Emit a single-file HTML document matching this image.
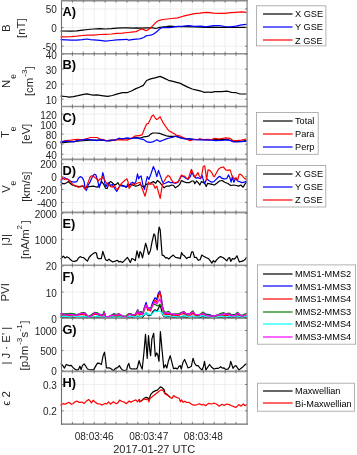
<!DOCTYPE html><html><head><meta charset="utf-8"><style>html,body{margin:0;padding:0;background:#fff;width:357px;height:455px;overflow:hidden}svg{display:block;filter:blur(0.35px)}text{font-family:"Liberation Sans", sans-serif;fill:#262626}</style></head><body>
<svg width="357" height="455" viewBox="0 0 357 455">
<rect width="357" height="455" fill="#fff"/>
<g stroke="#ebebeb" stroke-width="0.8" fill="none">
<line x1="72.41" y1="0.50" x2="72.41" y2="53.60"/>
<line x1="83.31" y1="0.50" x2="83.31" y2="53.60"/>
<line x1="94.22" y1="0.50" x2="94.22" y2="53.60"/>
<line x1="105.12" y1="0.50" x2="105.12" y2="53.60"/>
<line x1="116.03" y1="0.50" x2="116.03" y2="53.60"/>
<line x1="126.94" y1="0.50" x2="126.94" y2="53.60"/>
<line x1="137.84" y1="0.50" x2="137.84" y2="53.60"/>
<line x1="148.75" y1="0.50" x2="148.75" y2="53.60"/>
<line x1="159.65" y1="0.50" x2="159.65" y2="53.60"/>
<line x1="170.56" y1="0.50" x2="170.56" y2="53.60"/>
<line x1="181.46" y1="0.50" x2="181.46" y2="53.60"/>
<line x1="192.37" y1="0.50" x2="192.37" y2="53.60"/>
<line x1="203.28" y1="0.50" x2="203.28" y2="53.60"/>
<line x1="214.18" y1="0.50" x2="214.18" y2="53.60"/>
<line x1="225.09" y1="0.50" x2="225.09" y2="53.60"/>
<line x1="235.99" y1="0.50" x2="235.99" y2="53.60"/>
<line x1="61.50" y1="8.90" x2="246.90" y2="8.90"/>
<line x1="61.50" y1="27.55" x2="246.90" y2="27.55"/>
<line x1="61.50" y1="46.20" x2="246.90" y2="46.20"/>
<line x1="72.41" y1="53.60" x2="72.41" y2="106.40"/>
<line x1="83.31" y1="53.60" x2="83.31" y2="106.40"/>
<line x1="94.22" y1="53.60" x2="94.22" y2="106.40"/>
<line x1="105.12" y1="53.60" x2="105.12" y2="106.40"/>
<line x1="116.03" y1="53.60" x2="116.03" y2="106.40"/>
<line x1="126.94" y1="53.60" x2="126.94" y2="106.40"/>
<line x1="137.84" y1="53.60" x2="137.84" y2="106.40"/>
<line x1="148.75" y1="53.60" x2="148.75" y2="106.40"/>
<line x1="159.65" y1="53.60" x2="159.65" y2="106.40"/>
<line x1="170.56" y1="53.60" x2="170.56" y2="106.40"/>
<line x1="181.46" y1="53.60" x2="181.46" y2="106.40"/>
<line x1="192.37" y1="53.60" x2="192.37" y2="106.40"/>
<line x1="203.28" y1="53.60" x2="203.28" y2="106.40"/>
<line x1="214.18" y1="53.60" x2="214.18" y2="106.40"/>
<line x1="225.09" y1="53.60" x2="225.09" y2="106.40"/>
<line x1="235.99" y1="53.60" x2="235.99" y2="106.40"/>
<line x1="61.50" y1="54.10" x2="246.90" y2="54.10"/>
<line x1="61.50" y1="69.10" x2="246.90" y2="69.10"/>
<line x1="61.50" y1="84.10" x2="246.90" y2="84.10"/>
<line x1="61.50" y1="99.20" x2="246.90" y2="99.20"/>
<line x1="72.41" y1="106.40" x2="72.41" y2="159.30"/>
<line x1="83.31" y1="106.40" x2="83.31" y2="159.30"/>
<line x1="94.22" y1="106.40" x2="94.22" y2="159.30"/>
<line x1="105.12" y1="106.40" x2="105.12" y2="159.30"/>
<line x1="116.03" y1="106.40" x2="116.03" y2="159.30"/>
<line x1="126.94" y1="106.40" x2="126.94" y2="159.30"/>
<line x1="137.84" y1="106.40" x2="137.84" y2="159.30"/>
<line x1="148.75" y1="106.40" x2="148.75" y2="159.30"/>
<line x1="159.65" y1="106.40" x2="159.65" y2="159.30"/>
<line x1="170.56" y1="106.40" x2="170.56" y2="159.30"/>
<line x1="181.46" y1="106.40" x2="181.46" y2="159.30"/>
<line x1="192.37" y1="106.40" x2="192.37" y2="159.30"/>
<line x1="203.28" y1="106.40" x2="203.28" y2="159.30"/>
<line x1="214.18" y1="106.40" x2="214.18" y2="159.30"/>
<line x1="225.09" y1="106.40" x2="225.09" y2="159.30"/>
<line x1="235.99" y1="106.40" x2="235.99" y2="159.30"/>
<line x1="61.50" y1="114.10" x2="246.90" y2="114.10"/>
<line x1="61.50" y1="124.10" x2="246.90" y2="124.10"/>
<line x1="61.50" y1="134.20" x2="246.90" y2="134.20"/>
<line x1="61.50" y1="144.20" x2="246.90" y2="144.20"/>
<line x1="61.50" y1="154.20" x2="246.90" y2="154.20"/>
<line x1="72.41" y1="159.30" x2="72.41" y2="212.40"/>
<line x1="83.31" y1="159.30" x2="83.31" y2="212.40"/>
<line x1="94.22" y1="159.30" x2="94.22" y2="212.40"/>
<line x1="105.12" y1="159.30" x2="105.12" y2="212.40"/>
<line x1="116.03" y1="159.30" x2="116.03" y2="212.40"/>
<line x1="126.94" y1="159.30" x2="126.94" y2="212.40"/>
<line x1="137.84" y1="159.30" x2="137.84" y2="212.40"/>
<line x1="148.75" y1="159.30" x2="148.75" y2="212.40"/>
<line x1="159.65" y1="159.30" x2="159.65" y2="212.40"/>
<line x1="170.56" y1="159.30" x2="170.56" y2="212.40"/>
<line x1="181.46" y1="159.30" x2="181.46" y2="212.40"/>
<line x1="192.37" y1="159.30" x2="192.37" y2="212.40"/>
<line x1="203.28" y1="159.30" x2="203.28" y2="212.40"/>
<line x1="214.18" y1="159.30" x2="214.18" y2="212.40"/>
<line x1="225.09" y1="159.30" x2="225.09" y2="212.40"/>
<line x1="235.99" y1="159.30" x2="235.99" y2="212.40"/>
<line x1="61.50" y1="163.90" x2="246.90" y2="163.90"/>
<line x1="61.50" y1="176.70" x2="246.90" y2="176.70"/>
<line x1="61.50" y1="189.60" x2="246.90" y2="189.60"/>
<line x1="61.50" y1="202.40" x2="246.90" y2="202.40"/>
<line x1="72.41" y1="212.40" x2="72.41" y2="265.20"/>
<line x1="83.31" y1="212.40" x2="83.31" y2="265.20"/>
<line x1="94.22" y1="212.40" x2="94.22" y2="265.20"/>
<line x1="105.12" y1="212.40" x2="105.12" y2="265.20"/>
<line x1="116.03" y1="212.40" x2="116.03" y2="265.20"/>
<line x1="126.94" y1="212.40" x2="126.94" y2="265.20"/>
<line x1="137.84" y1="212.40" x2="137.84" y2="265.20"/>
<line x1="148.75" y1="212.40" x2="148.75" y2="265.20"/>
<line x1="159.65" y1="212.40" x2="159.65" y2="265.20"/>
<line x1="170.56" y1="212.40" x2="170.56" y2="265.20"/>
<line x1="181.46" y1="212.40" x2="181.46" y2="265.20"/>
<line x1="192.37" y1="212.40" x2="192.37" y2="265.20"/>
<line x1="203.28" y1="212.40" x2="203.28" y2="265.20"/>
<line x1="214.18" y1="212.40" x2="214.18" y2="265.20"/>
<line x1="225.09" y1="212.40" x2="225.09" y2="265.20"/>
<line x1="235.99" y1="212.40" x2="235.99" y2="265.20"/>
<line x1="61.50" y1="213.30" x2="246.90" y2="213.30"/>
<line x1="61.50" y1="239.30" x2="246.90" y2="239.30"/>
<line x1="72.41" y1="265.20" x2="72.41" y2="318.10"/>
<line x1="83.31" y1="265.20" x2="83.31" y2="318.10"/>
<line x1="94.22" y1="265.20" x2="94.22" y2="318.10"/>
<line x1="105.12" y1="265.20" x2="105.12" y2="318.10"/>
<line x1="116.03" y1="265.20" x2="116.03" y2="318.10"/>
<line x1="126.94" y1="265.20" x2="126.94" y2="318.10"/>
<line x1="137.84" y1="265.20" x2="137.84" y2="318.10"/>
<line x1="148.75" y1="265.20" x2="148.75" y2="318.10"/>
<line x1="159.65" y1="265.20" x2="159.65" y2="318.10"/>
<line x1="170.56" y1="265.20" x2="170.56" y2="318.10"/>
<line x1="181.46" y1="265.20" x2="181.46" y2="318.10"/>
<line x1="192.37" y1="265.20" x2="192.37" y2="318.10"/>
<line x1="203.28" y1="265.20" x2="203.28" y2="318.10"/>
<line x1="214.18" y1="265.20" x2="214.18" y2="318.10"/>
<line x1="225.09" y1="265.20" x2="225.09" y2="318.10"/>
<line x1="235.99" y1="265.20" x2="235.99" y2="318.10"/>
<line x1="61.50" y1="266.00" x2="246.90" y2="266.00"/>
<line x1="61.50" y1="292.10" x2="246.90" y2="292.10"/>
<line x1="72.41" y1="318.10" x2="72.41" y2="371.20"/>
<line x1="83.31" y1="318.10" x2="83.31" y2="371.20"/>
<line x1="94.22" y1="318.10" x2="94.22" y2="371.20"/>
<line x1="105.12" y1="318.10" x2="105.12" y2="371.20"/>
<line x1="116.03" y1="318.10" x2="116.03" y2="371.20"/>
<line x1="126.94" y1="318.10" x2="126.94" y2="371.20"/>
<line x1="137.84" y1="318.10" x2="137.84" y2="371.20"/>
<line x1="148.75" y1="318.10" x2="148.75" y2="371.20"/>
<line x1="159.65" y1="318.10" x2="159.65" y2="371.20"/>
<line x1="170.56" y1="318.10" x2="170.56" y2="371.20"/>
<line x1="181.46" y1="318.10" x2="181.46" y2="371.20"/>
<line x1="192.37" y1="318.10" x2="192.37" y2="371.20"/>
<line x1="203.28" y1="318.10" x2="203.28" y2="371.20"/>
<line x1="214.18" y1="318.10" x2="214.18" y2="371.20"/>
<line x1="225.09" y1="318.10" x2="225.09" y2="371.20"/>
<line x1="235.99" y1="318.10" x2="235.99" y2="371.20"/>
<line x1="61.50" y1="330.50" x2="246.90" y2="330.50"/>
<line x1="61.50" y1="350.60" x2="246.90" y2="350.60"/>
<line x1="61.50" y1="370.70" x2="246.90" y2="370.70"/>
<line x1="72.41" y1="371.20" x2="72.41" y2="424.00"/>
<line x1="83.31" y1="371.20" x2="83.31" y2="424.00"/>
<line x1="94.22" y1="371.20" x2="94.22" y2="424.00"/>
<line x1="105.12" y1="371.20" x2="105.12" y2="424.00"/>
<line x1="116.03" y1="371.20" x2="116.03" y2="424.00"/>
<line x1="126.94" y1="371.20" x2="126.94" y2="424.00"/>
<line x1="137.84" y1="371.20" x2="137.84" y2="424.00"/>
<line x1="148.75" y1="371.20" x2="148.75" y2="424.00"/>
<line x1="159.65" y1="371.20" x2="159.65" y2="424.00"/>
<line x1="170.56" y1="371.20" x2="170.56" y2="424.00"/>
<line x1="181.46" y1="371.20" x2="181.46" y2="424.00"/>
<line x1="192.37" y1="371.20" x2="192.37" y2="424.00"/>
<line x1="203.28" y1="371.20" x2="203.28" y2="424.00"/>
<line x1="214.18" y1="371.20" x2="214.18" y2="424.00"/>
<line x1="225.09" y1="371.20" x2="225.09" y2="424.00"/>
<line x1="235.99" y1="371.20" x2="235.99" y2="424.00"/>
<line x1="61.50" y1="384.50" x2="246.90" y2="384.50"/>
<line x1="61.50" y1="410.80" x2="246.90" y2="410.80"/>
</g>
<polyline fill="none" stroke="#000" stroke-width="1.20" stroke-linejoin="round" stroke-linecap="round" points="61.0,31.0 71.2,31.2 76.8,30.9 82.4,30.1 88.0,29.5 93.6,29.0 100.0,28.6 105.6,29.0 111.2,28.7 116.8,28.1 122.4,27.8 128.0,27.8 133.6,28.1 136.0,27.9 141.6,28.2 147.2,27.9 152.8,27.9 156.2,28.5 158.4,27.7 161.8,27.0 166.3,26.6 169.6,26.2 176.0,26.6 183.0,26.6 195.0,26.9 205.6,27.4 212.0,27.2 219.2,27.4 230.4,27.4 246.5,27.4"/>
<polyline fill="none" stroke="#0000ff" stroke-width="1.20" stroke-linejoin="round" stroke-linecap="round" points="61.0,39.6 71.2,40.2 76.8,40.2 82.4,39.6 86.9,39.0 90.3,39.6 93.6,39.9 100.0,40.4 105.6,41.1 111.2,40.5 116.8,39.9 122.4,39.6 126.9,39.3 128.6,40.2 133.6,39.3 139.0,38.9 140.5,38.6 143.8,37.5 146.1,35.8 148.3,35.5 150.6,35.2 152.8,34.4 155.0,33.0 157.3,31.3 159.5,29.0 161.8,27.7 165.1,27.4 168.5,27.7 171.9,27.4 177.6,26.3 183.2,26.1 188.8,25.7 194.4,26.3 201.1,26.1 205.6,26.8 213.6,25.7 219.2,25.7 224.8,26.5 230.4,26.8 236.0,26.1 241.6,24.9 246.5,24.3"/>
<polyline fill="none" stroke="#ff0000" stroke-width="1.20" stroke-linejoin="round" stroke-linecap="round" points="61.0,36.8 71.2,36.6 76.8,36.2 82.4,35.5 88.0,35.1 93.6,35.1 100.0,34.5 105.6,34.3 111.2,34.0 116.8,33.4 122.4,33.1 128.0,32.5 133.6,31.8 136.0,31.6 138.8,30.2 141.6,29.0 143.8,29.6 146.1,30.7 148.3,29.6 150.6,27.9 152.8,25.7 155.0,23.4 157.3,21.2 159.5,20.3 162.9,19.5 167.4,19.0 171.9,18.5 177.6,17.9 183.2,16.2 188.8,14.9 194.4,13.7 200.0,13.1 203.4,12.6 207.9,12.4 213.6,13.1 219.2,13.4 224.8,13.4 230.4,12.6 236.0,12.3 241.6,11.9 246.5,12.3"/>
<polyline fill="none" stroke="#000" stroke-width="1.20" stroke-linejoin="round" stroke-linecap="round" points="61.0,96.1 65.6,96.5 69.0,97.1 73.4,96.6 77.9,95.7 82.4,94.6 86.9,93.8 90.3,94.6 93.6,95.2 97.0,94.9 100.0,95.3 103.4,95.8 107.8,96.4 112.3,95.5 116.8,94.2 122.4,92.7 126.9,92.7 131.4,91.0 135.9,88.6 139.4,87.3 143.3,85.4 146.6,80.5 150.6,78.9 155.0,77.9 160.1,76.4 164.0,78.1 168.5,80.3 173.0,81.4 176.5,82.3 179.8,83.1 183.2,84.9 187.7,87.1 192.2,89.0 196.6,90.1 201.1,91.2 204.5,92.4 207.9,92.0 211.4,92.4 214.7,91.6 221.4,91.6 227.6,91.2 231.5,92.4 236.0,92.7 239.4,93.8 246.5,94.0"/>
<polyline fill="none" stroke="#000" stroke-width="1.20" stroke-linejoin="round" stroke-linecap="round" points="61.0,142.8 70.0,142.0 80.0,141.0 90.0,140.2 100.0,140.2 110.0,140.8 120.0,139.0 130.0,138.5 136.0,137.5 140.5,138.0 143.8,136.9 147.2,136.3 148.9,135.8 150.6,134.1 152.8,133.0 156.2,133.0 159.5,133.3 162.9,134.6 166.3,135.8 169.6,136.3 176.0,136.3 180.5,137.6 185.0,138.6 193.9,139.3 210.0,139.6 226.8,139.3 233.0,141.2 240.0,141.5 246.4,140.6"/>
<polyline fill="none" stroke="#ff0000" stroke-width="1.20" stroke-linejoin="round" stroke-linecap="round" points="61.0,142.0 65.6,140.7 71.2,140.1 74.6,139.6 77.9,139.3 82.4,139.8 86.9,138.7 90.3,137.5 93.6,137.5 97.0,137.5 100.0,139.0 103.4,139.6 106.7,140.7 111.2,140.1 116.8,139.9 122.4,139.6 126.9,140.1 131.4,138.4 134.7,136.2 138.1,135.6 140.0,135.6 142.2,134.6 144.4,129.0 146.6,124.0 148.3,123.4 150.0,120.1 151.7,116.2 153.4,115.0 155.0,117.8 156.7,119.5 158.4,118.4 160.1,116.7 161.2,119.0 162.9,122.3 165.1,125.7 167.4,129.0 169.6,131.3 171.9,132.4 174.7,134.1 176.0,135.1 180.5,136.2 185.0,138.2 188.3,140.1 190.6,140.7 193.9,139.3 198.4,139.6 199.5,138.7 202.9,139.6 207.4,139.3 211.9,139.6 214.5,138.4 219.0,139.0 225.7,137.9 230.2,138.4 233.0,140.5 236.9,140.7 241.4,140.1 246.4,139.0"/>
<polyline fill="none" stroke="#0000ff" stroke-width="1.20" stroke-linejoin="round" stroke-linecap="round" points="61.0,141.8 65.6,141.2 71.2,141.6 74.6,141.8 76.8,140.5 82.4,139.8 86.9,139.3 90.3,139.6 93.6,140.1 97.0,140.7 100.0,139.6 103.4,140.1 106.7,141.0 111.2,140.1 115.7,139.8 119.0,138.2 122.4,139.0 126.9,137.9 131.4,138.7 133.6,137.9 137.0,138.2 140.5,138.9 143.8,139.7 147.2,141.9 150.0,142.3 152.8,141.9 155.0,140.8 157.1,139.7 158.4,140.8 160.1,141.4 162.9,140.3 166.3,138.9 169.6,138.0 173.0,137.1 176.0,136.2 180.5,137.9 185.0,139.0 189.4,138.7 193.9,139.6 202.9,139.8 211.9,140.1 215.6,140.7 221.2,140.5 226.8,139.8 230.7,140.7 233.0,141.8 236.9,142.0 241.4,141.6 246.4,141.2"/>
<polyline fill="none" stroke="#000" stroke-width="1.20" stroke-linejoin="round" stroke-linecap="round" points="61.0,185.0 62.2,183.3 64.5,183.8 66.7,182.7 68.4,181.6 70.1,183.3 72.3,185.0 75.7,186.1 79.0,186.6 82.4,186.1 85.8,187.8 89.1,186.6 93.6,186.1 97.0,187.2 100.0,184.4 101.7,181.6 103.4,183.8 105.6,188.3 107.3,188.3 109.0,182.7 110.6,181.6 112.9,183.3 114.6,185.0 116.2,184.4 117.9,182.7 119.6,185.5 121.8,185.0 124.1,186.1 126.3,187.2 128.6,185.5 130.8,184.4 133.6,185.5 135.9,186.1 138.1,185.5 140.0,184.4 142.2,186.1 143.9,187.2 146.2,184.4 149.0,183.8 151.2,182.7 153.4,181.6 155.7,183.3 157.4,180.5 159.6,182.2 161.8,185.0 164.1,187.8 166.3,186.1 169.1,186.1 171.9,185.0 173.6,185.5 175.3,187.8 178.1,186.1 179.7,184.4 181.4,180.5 183.6,181.6 186.4,182.7 189.2,182.7 192.0,181.0 193.7,181.0 194.8,183.8 196.5,181.0 198.2,182.7 199.8,185.0 201.5,181.6 203.5,182.7 204.9,183.8 206.2,186.6 207.7,183.3 209.9,183.8 212.2,184.4 214.5,185.0 216.7,183.3 219.5,181.0 222.3,180.5 224.6,182.2 227.9,183.5 230.7,185.5 233.5,185.0 236.3,185.5 238.6,186.1 240.8,185.0 243.1,187.2 244.7,184.4 246.4,182.2"/>
<polyline fill="none" stroke="#0000ff" stroke-width="1.20" stroke-linejoin="round" stroke-linecap="round" points="61.0,182.2 62.2,178.8 64.5,177.7 66.7,178.8 69.0,179.9 71.2,181.6 74.6,182.2 76.8,181.6 78.5,178.2 80.2,176.6 82.4,177.7 84.1,181.6 85.2,188.3 86.3,190.6 88.0,185.5 90.3,181.6 92.5,176.6 94.2,174.3 95.9,174.9 97.5,179.9 99.2,187.8 101.1,182.2 102.8,172.6 103.9,176.6 105.0,184.4 106.2,186.6 107.3,183.3 109.0,182.7 110.6,185.5 112.3,184.4 114.0,187.2 115.7,190.0 116.8,191.4 118.5,187.8 120.2,185.5 122.4,186.1 124.6,186.1 126.3,187.2 128.0,183.8 129.1,186.1 130.8,183.3 132.5,182.2 134.2,183.8 135.9,181.6 137.5,173.8 138.7,178.8 140.0,176.6 141.1,176.0 142.8,184.4 144.5,189.5 146.2,181.0 147.3,176.6 149.0,179.4 151.2,173.2 153.4,166.5 155.1,170.4 156.8,176.6 158.5,170.4 160.2,175.4 162.4,181.6 164.1,183.8 166.3,182.7 168.6,181.6 170.8,182.7 173.6,182.7 175.9,183.3 178.1,182.2 179.7,178.8 181.4,176.0 183.6,176.6 185.8,178.2 188.1,179.4 190.3,176.6 192.0,172.1 193.7,176.0 195.9,178.2 198.2,177.7 200.4,178.8 202.1,175.4 203.8,181.6 204.9,183.3 206.6,178.8 208.8,180.5 211.6,182.2 213.9,181.6 216.7,178.8 219.5,176.3 221.8,178.2 224.0,178.8 226.8,178.6 228.5,174.9 229.9,177.7 231.1,182.2 232.2,177.1 233.9,182.2 235.5,178.2 237.5,181.0 239.7,181.6 241.9,182.7 244.2,182.2 246.4,181.0"/>
<polyline fill="none" stroke="#ff0000" stroke-width="1.20" stroke-linejoin="round" stroke-linecap="round" points="61.0,179.9 62.2,177.7 64.5,179.4 66.7,178.8 69.0,180.5 71.2,182.7 73.4,185.0 75.7,185.5 77.9,187.2 81.3,186.6 83.0,185.5 84.6,188.9 86.3,187.2 88.0,182.7 90.3,176.6 91.9,175.7 93.6,176.6 95.9,178.2 98.1,181.0 100.0,178.8 101.7,178.8 102.8,176.6 104.5,179.9 106.2,182.7 107.8,184.4 110.1,186.1 112.3,187.2 114.6,185.5 116.2,188.9 117.9,189.5 120.2,185.0 122.4,182.7 124.6,180.5 126.9,178.8 128.0,181.6 129.1,188.3 130.8,186.1 132.5,183.8 134.7,184.4 137.0,183.3 140.0,182.2 141.7,187.2 143.4,191.7 145.0,196.2 146.7,189.5 148.4,182.2 150.1,184.4 151.8,183.8 153.4,184.4 155.1,188.3 156.8,186.1 158.5,192.3 160.2,198.4 161.8,187.8 163.5,182.2 165.8,178.2 168.0,175.4 169.7,176.6 171.4,179.9 173.6,182.7 175.9,182.7 178.1,181.6 179.7,179.4 181.4,174.9 183.0,176.0 184.7,176.0 186.4,178.2 188.1,178.8 189.8,174.3 191.4,169.3 193.1,173.2 194.8,177.1 196.5,174.9 197.9,172.6 199.3,176.0 201.0,178.2 202.1,173.2 203.2,166.5 204.7,165.9 205.8,173.2 206.6,179.9 208.0,169.8 209.9,170.4 211.7,172.6 213.4,176.0 214.5,176.6 216.2,173.2 218.4,169.3 220.6,167.6 223.4,167.0 225.7,169.8 227.9,170.4 230.2,169.8 231.8,175.4 234.1,178.8 236.0,177.7 237.5,180.5 239.1,174.3 240.8,174.3 242.5,176.0 244.2,178.2 246.4,179.4"/>
<polyline fill="none" stroke="#000" stroke-width="1.20" stroke-linejoin="round" stroke-linecap="round" points="61.0,258.6 61.7,257.7 63.4,256.1 65.0,258.0 66.7,256.9 68.4,257.5 70.1,259.2 72.3,261.1 74.6,261.4 76.8,260.6 78.5,258.0 80.2,256.6 81.8,257.5 83.5,257.5 85.8,259.7 87.5,261.1 89.1,257.5 90.8,255.5 93.1,253.6 95.3,252.5 96.4,253.0 97.5,258.0 98.7,258.6 101.3,258.6 102.8,251.3 103.9,254.7 105.6,259.7 107.3,260.6 109.0,259.2 110.6,260.6 112.3,261.8 114.6,261.4 117.4,260.3 119.0,262.0 120.7,261.4 122.4,262.5 124.1,260.9 125.8,259.2 127.5,257.5 128.9,259.7 130.3,262.5 131.9,258.6 133.6,259.2 135.3,260.6 137.0,250.8 138.9,257.9 140.0,251.7 141.1,252.8 142.5,257.9 144.2,250.0 145.6,243.3 147.0,247.8 148.6,254.5 150.3,251.1 152.0,242.2 153.9,233.8 155.0,235.4 156.2,244.4 157.3,250.0 158.2,234.3 159.1,227.0 160.2,229.8 161.3,244.4 162.1,255.1 163.8,255.6 165.5,257.9 167.1,257.6 168.8,259.0 171.1,256.7 173.3,255.1 175.5,257.3 178.2,257.8 180.3,258.6 181.6,252.5 182.7,254.7 184.4,255.8 186.6,258.6 188.3,257.3 190.0,257.5 191.7,251.9 193.0,251.9 194.5,257.5 196.2,257.3 198.4,260.3 200.1,259.7 201.8,255.0 204.0,256.4 206.3,257.8 208.5,258.6 210.7,261.4 211.9,263.1 213.4,260.6 215.0,262.0 217.3,259.2 219.0,257.5 220.6,256.6 222.9,257.5 225.1,259.2 226.8,260.9 228.5,258.0 229.6,257.5 230.7,261.4 232.4,258.6 234.1,259.2 235.5,258.0 236.9,255.8 238.0,258.6 239.4,262.0 241.4,261.4 243.6,260.6 245.3,259.2 246.4,257.5"/>
<polyline fill="none" stroke="#000" stroke-width="1.20" stroke-linejoin="round" stroke-linecap="round" points="61.0,317.5 64.0,316.8 67.0,317.1 70.0,316.9 72.6,317.5 76.8,316.9 79.5,316.8 81.8,317.0 83.5,317.2 85.2,316.6 86.5,317.6 88.1,317.1 91.0,317.6 94.4,317.4 96.1,317.0 97.8,317.2 99.4,317.5 102.8,317.5 104.1,316.5 105.7,317.5 107.8,317.1 111.2,317.6 113.7,316.9 116.5,316.8 119.0,316.7 121.6,317.6 124.9,317.1 126.6,317.4 128.7,317.5 130.8,316.8 132.9,317.6 135.0,317.0 136.7,316.9 137.7,316.0 139.4,317.0 141.0,316.7 142.7,317.5 144.4,314.7 146.1,312.9 147.8,315.3 148.9,314.9 150.6,315.5 152.8,311.8 155.0,309.7 156.7,311.1 158.4,308.6 159.8,305.0 161.2,308.6 162.3,313.9 164.0,316.6 165.7,317.3 168.8,316.7 171.6,317.1 175.0,317.2 178.3,317.1 181.1,316.8 183.9,317.1 186.2,317.4 189.5,316.8 192.9,316.4 195.1,317.4 198.5,317.1 200.7,317.5 203.0,316.6 206.0,317.6 209.5,317.4 213.1,317.6 216.6,317.6 220.1,316.9 223.6,317.2 226.6,317.6 229.5,317.1 231.3,317.6 234.2,317.2 237.8,316.8 240.1,317.6 242.5,317.6 246.5,317.4"/>
<polyline fill="none" stroke="#0000ff" stroke-width="1.20" stroke-linejoin="round" stroke-linecap="round" points="61.0,313.7 64.0,314.8 67.0,313.9 70.0,314.1 72.6,314.2 76.8,314.9 79.5,314.2 81.8,312.9 83.5,312.9 85.2,314.0 86.5,315.6 88.1,316.9 91.0,315.9 94.4,313.2 96.1,313.6 97.8,313.9 99.4,315.1 102.8,315.2 104.1,312.0 105.7,316.8 107.8,317.0 111.2,315.9 113.7,313.7 116.5,314.8 119.0,314.1 121.6,315.8 124.9,316.6 126.6,316.5 128.7,313.5 130.8,314.1 132.9,315.2 135.0,315.4 136.7,312.4 137.7,309.8 139.4,313.1 141.0,311.6 142.7,313.7 144.4,307.3 146.1,302.4 147.8,308.4 148.9,307.7 150.6,308.7 152.8,302.0 155.0,297.7 156.7,299.7 158.4,293.0 159.8,291.1 161.2,296.7 162.3,305.2 164.0,312.3 165.7,313.7 168.8,313.1 171.6,315.1 175.0,314.7 178.3,315.2 181.1,312.7 183.9,312.4 186.2,314.2 189.5,313.9 192.9,312.8 195.1,314.4 198.5,315.6 200.7,314.7 203.0,312.7 206.0,314.1 209.5,314.6 213.1,316.2 216.6,315.4 220.1,315.0 223.6,313.4 226.6,314.5 229.5,314.1 231.3,314.5 234.2,315.0 237.8,314.1 240.1,315.7 242.5,316.3 246.5,314.7"/>
<polyline fill="none" stroke="#ff0000" stroke-width="1.20" stroke-linejoin="round" stroke-linecap="round" points="61.0,315.6 64.0,315.4 67.0,315.2 70.0,315.8 72.6,315.6 76.8,315.3 79.5,314.8 81.8,314.4 83.5,314.6 85.2,315.0 86.5,315.6 88.1,316.8 91.0,316.5 94.4,314.2 96.1,314.4 97.8,314.6 99.4,315.9 102.8,316.1 104.1,313.7 105.7,317.6 107.8,317.0 111.2,316.2 113.7,315.4 116.5,316.0 119.0,315.0 121.6,316.2 124.9,316.6 126.6,316.5 128.7,314.8 130.8,314.8 132.9,315.9 135.0,315.4 136.7,314.4 137.7,311.7 139.4,315.3 141.0,313.9 142.7,315.1 144.4,309.9 146.1,304.9 147.8,310.7 148.9,309.3 150.6,311.1 152.8,305.0 155.0,300.1 156.7,302.1 158.4,296.5 159.8,291.9 161.2,297.7 162.3,307.6 164.0,313.9 165.7,314.3 168.8,314.1 171.6,315.0 175.0,315.2 178.3,315.7 181.1,314.0 183.9,313.6 186.2,315.2 189.5,316.0 192.9,313.6 195.1,315.4 198.5,315.7 200.7,314.9 203.0,314.9 206.0,315.4 209.5,316.1 213.1,316.5 216.6,316.4 220.1,315.6 223.6,315.2 226.6,315.3 229.5,315.1 231.3,316.1 234.2,315.6 237.8,315.0 240.1,315.7 242.5,316.4 246.5,314.8"/>
<polyline fill="none" stroke="#008000" stroke-width="1.20" stroke-linejoin="round" stroke-linecap="round" points="61.0,314.0 64.0,313.7 67.0,314.2 70.0,313.3 72.6,313.5 76.8,314.5 79.5,313.8 81.8,312.7 83.5,312.5 85.2,312.9 86.5,314.7 88.1,316.5 91.0,315.0 94.4,312.4 96.1,312.5 97.8,312.9 99.4,314.2 102.8,315.0 104.1,311.3 105.7,316.6 107.8,317.3 111.2,315.3 113.7,314.1 116.5,314.4 119.0,313.9 121.6,315.7 124.9,316.4 126.6,315.5 128.7,313.5 130.8,313.5 132.9,315.2 135.0,314.7 136.7,311.4 137.7,310.1 139.4,312.7 141.0,311.6 142.7,313.3 144.4,308.1 146.1,304.8 147.8,308.1 148.9,308.4 150.6,308.4 152.8,305.0 155.0,304.2 156.7,305.6 158.4,305.7 159.8,304.1 161.2,305.8 162.3,307.3 164.0,311.1 165.7,312.4 168.8,311.3 171.6,314.3 175.0,313.8 178.3,313.8 181.1,312.8 183.9,311.3 186.2,313.8 189.5,313.7 192.9,310.8 195.1,314.3 198.5,315.1 200.7,313.7 203.0,312.0 206.0,314.6 209.5,315.0 213.1,316.2 216.6,315.7 220.1,313.5 223.6,312.7 226.6,313.7 229.5,313.2 231.3,314.7 234.2,315.0 237.8,312.3 240.1,314.9 242.5,315.0 246.5,313.2"/>
<polyline fill="none" stroke="#00ffff" stroke-width="1.20" stroke-linejoin="round" stroke-linecap="round" points="61.0,316.4 64.0,316.2 67.0,316.3 70.0,317.0 72.6,316.1 76.8,316.3 79.5,316.5 81.8,316.1 83.5,316.7 85.2,316.6 86.5,316.5 88.1,317.1 91.0,316.9 94.4,316.6 96.1,316.4 97.8,315.8 99.4,317.0 102.8,316.9 104.1,316.2 105.7,317.3 107.8,317.2 111.2,317.1 113.7,316.9 116.5,317.0 119.0,316.9 121.6,317.2 124.9,317.0 126.6,317.4 128.7,316.2 130.8,316.0 132.9,316.7 135.0,317.2 136.7,316.1 137.7,315.7 139.4,316.6 141.0,316.1 142.7,315.9 144.4,314.5 146.1,312.4 147.8,314.8 148.9,313.9 150.6,315.0 152.8,313.2 155.0,310.8 156.7,311.6 158.4,311.2 159.8,311.1 161.2,312.2 162.3,313.1 164.0,316.1 165.7,315.6 168.8,316.0 171.6,316.5 175.0,316.5 178.3,317.0 181.1,316.5 183.9,315.4 186.2,316.2 189.5,316.5 192.9,316.1 195.1,316.9 198.5,317.0 200.7,315.9 203.0,315.6 206.0,316.6 209.5,316.8 213.1,317.3 216.6,317.1 220.1,316.1 223.6,316.4 226.6,317.0 229.5,316.2 231.3,316.9 234.2,316.5 237.8,316.0 240.1,316.9 242.5,317.2 246.5,316.2"/>
<polyline fill="none" stroke="#ff00ff" stroke-width="1.20" stroke-linejoin="round" stroke-linecap="round" points="61.0,313.8 64.0,314.2 67.0,315.2 70.0,314.3 72.6,314.6 76.8,315.3 79.5,313.8 81.8,313.1 83.5,314.0 85.2,313.4 86.5,314.5 88.1,316.3 91.0,316.4 94.4,312.8 96.1,313.9 97.8,313.4 99.4,314.3 102.8,315.9 104.1,312.8 105.7,316.4 107.8,317.1 111.2,315.3 113.7,315.1 116.5,315.0 119.0,313.9 121.6,315.2 124.9,317.2 126.6,316.6 128.7,314.1 130.8,314.7 132.9,315.2 135.0,314.5 136.7,313.0 137.7,310.5 139.4,313.9 141.0,312.8 142.7,314.4 144.4,308.3 146.1,304.8 147.8,308.5 148.9,308.1 150.6,309.7 152.8,304.6 155.0,301.8 156.7,304.1 158.4,301.2 159.8,299.0 161.2,302.9 162.3,307.2 164.0,312.5 165.7,313.1 168.8,313.1 171.6,313.9 175.0,314.4 178.3,314.6 181.1,313.3 183.9,311.6 186.2,313.8 189.5,313.9 192.9,312.1 195.1,314.7 198.5,314.6 200.7,314.4 203.0,313.2 206.0,315.4 209.5,315.8 213.1,316.4 216.6,315.1 220.1,315.0 223.6,313.7 226.6,314.2 229.5,314.1 231.3,315.8 234.2,315.7 237.8,313.3 240.1,314.9 242.5,316.3 246.5,314.2"/>
<polyline fill="none" stroke="#000" stroke-width="1.20" stroke-linejoin="round" stroke-linecap="round" points="61.1,363.9 62.8,365.6 64.5,368.1 66.2,364.5 67.8,365.1 69.5,365.6 71.2,365.4 72.9,367.3 74.6,369.0 76.8,370.1 78.5,369.5 79.9,366.2 81.1,369.5 82.4,365.6 84.1,363.9 85.8,366.2 87.5,369.0 89.1,369.5 91.4,369.9 93.6,369.9 95.9,365.6 97.5,363.1 99.7,363.4 101.4,364.5 103.0,356.1 104.5,352.2 105.6,360.0 106.4,367.9 108.1,367.9 110.3,368.1 112.0,369.5 113.7,370.7 115.4,368.4 117.6,367.6 119.3,365.6 121.0,368.4 122.6,370.1 124.9,370.7 126.6,369.9 127.7,365.6 128.8,363.4 129.9,367.9 131.6,369.0 133.9,368.8 136.1,369.0 137.3,368.0 139.1,360.7 140.5,365.2 142.2,369.1 143.8,354.0 145.5,334.4 147.2,358.5 148.5,335.5 149.7,349.5 150.6,355.7 151.9,338.9 153.7,333.3 155.3,356.3 156.7,352.9 157.8,355.1 159.0,361.3 160.4,331.6 162.0,349.5 163.8,368.0 165.4,364.7 166.8,368.0 168.5,360.7 170.2,355.7 171.9,362.4 173.5,368.6 175.7,368.1 177.4,369.0 179.0,366.2 180.2,365.6 181.3,369.0 183.0,362.3 184.6,359.5 186.3,363.4 188.0,367.9 189.7,367.3 191.4,366.2 193.0,358.3 194.7,363.4 196.4,365.6 198.1,365.6 199.8,367.9 202.0,370.1 203.4,366.7 204.5,361.4 205.9,370.1 207.6,367.3 209.6,364.5 211.7,367.3 213.9,369.0 216.2,368.4 218.4,368.4 220.6,366.7 222.3,368.1 224.0,367.9 225.7,369.5 227.9,369.2 229.6,366.7 230.7,361.4 231.8,364.5 233.0,368.4 234.6,366.2 236.0,365.6 237.5,367.9 239.1,370.1 240.8,368.4 243.1,366.7 245.3,364.5 246.6,363.9"/>
<polyline fill="none" stroke="#000" stroke-width="1.20" stroke-linejoin="round" stroke-linecap="round" points="139.2,399.5 139.9,401.8 141.6,400.7 143.8,398.5 146.1,397.4 147.8,397.9 148.9,399.6 150.6,394.6 152.8,392.1 155.6,390.6 157.3,390.1 159.0,388.4 160.4,386.9 162.3,387.8 164.0,389.5 165.1,393.4 167.4,394.6 169.6,396.8"/>
<polyline fill="none" stroke="#ff0000" stroke-width="1.20" stroke-linejoin="round" stroke-linecap="round" points="61.0,405.1 63.4,403.4 65.0,404.3 66.7,403.4 69.0,402.3 71.2,404.3 72.9,403.7 75.1,401.8 76.8,401.0 79.0,402.3 81.8,402.1 84.1,403.4 86.3,401.2 88.6,399.5 90.3,401.2 91.4,402.9 93.1,400.3 94.7,401.8 97.0,403.4 98.7,404.0 100.0,404.0 101.7,405.1 103.4,404.3 105.0,403.4 106.7,404.0 108.4,401.8 110.6,404.0 113.4,401.8 116.2,403.7 117.9,402.9 119.6,400.1 121.8,401.2 124.1,402.1 126.3,403.7 129.1,401.0 130.8,402.3 133.1,401.0 135.9,399.9 137.5,401.8 139.2,399.5 139.9,401.8 141.6,400.7 143.8,399.0 146.1,399.6 147.8,399.0 148.9,401.8 150.0,398.5 152.8,396.2 155.6,394.0 158.4,391.8 160.6,390.1 162.3,389.9 163.5,391.2 165.1,394.0 167.4,395.1 169.6,396.8 172.0,398.4 173.7,395.6 175.4,396.9 177.6,397.8 179.3,398.4 180.4,401.8 181.5,399.9 183.2,402.3 184.9,401.2 186.6,402.5 188.8,402.3 191.6,404.3 193.8,405.1 196.6,404.8 199.5,403.7 201.7,405.1 203.4,404.3 205.6,405.7 208.4,403.4 211.4,404.0 214.2,403.2 216.4,404.0 219.2,406.2 222.0,404.3 224.2,405.5 226.5,404.0 229.3,404.6 231.5,405.7 233.8,406.6 236.0,407.4 238.8,404.6 241.1,406.2 243.3,404.0 245.0,405.7 246.6,404.6"/>
<g fill="none">
<line x1="61.5" y1="0" x2="61.5" y2="424.8" stroke="#6e6e6e" stroke-width="1.1"/>
<line x1="247.1" y1="0" x2="247.1" y2="424.8" stroke="#9a9a9a" stroke-width="1.5"/>
<line x1="61" y1="0.7" x2="247.8" y2="0.7" stroke="#8a8a8a" stroke-width="1.4"/>
<line x1="61" y1="53.80" x2="247.8" y2="53.80" stroke="#939393" stroke-width="1.6"/>
<line x1="61" y1="106.50" x2="247.8" y2="106.50" stroke="#939393" stroke-width="1.6"/>
<line x1="61" y1="159.40" x2="247.8" y2="159.40" stroke="#939393" stroke-width="1.6"/>
<line x1="61" y1="212.40" x2="247.8" y2="212.40" stroke="#939393" stroke-width="1.6"/>
<line x1="61" y1="265.30" x2="247.8" y2="265.30" stroke="#939393" stroke-width="1.6"/>
<line x1="61" y1="318.20" x2="247.8" y2="318.20" stroke="#939393" stroke-width="1.6"/>
<line x1="61" y1="371.40" x2="247.8" y2="371.40" stroke="#939393" stroke-width="1.6"/>
<line x1="61" y1="424.10" x2="247.8" y2="424.10" stroke="#6e6e6e" stroke-width="1.3"/>
<g stroke="#6a6a6a" stroke-width="0.9">
<line x1="72.41" y1="0.50" x2="72.41" y2="2.50"/>
<line x1="83.31" y1="0.50" x2="83.31" y2="2.50"/>
<line x1="94.22" y1="0.50" x2="94.22" y2="2.50"/>
<line x1="105.12" y1="0.50" x2="105.12" y2="2.50"/>
<line x1="116.03" y1="0.50" x2="116.03" y2="2.50"/>
<line x1="126.94" y1="0.50" x2="126.94" y2="2.50"/>
<line x1="137.84" y1="0.50" x2="137.84" y2="2.50"/>
<line x1="148.75" y1="0.50" x2="148.75" y2="2.50"/>
<line x1="159.65" y1="0.50" x2="159.65" y2="2.50"/>
<line x1="170.56" y1="0.50" x2="170.56" y2="2.50"/>
<line x1="181.46" y1="0.50" x2="181.46" y2="2.50"/>
<line x1="192.37" y1="0.50" x2="192.37" y2="2.50"/>
<line x1="203.28" y1="0.50" x2="203.28" y2="2.50"/>
<line x1="214.18" y1="0.50" x2="214.18" y2="2.50"/>
<line x1="225.09" y1="0.50" x2="225.09" y2="2.50"/>
<line x1="235.99" y1="0.50" x2="235.99" y2="2.50"/>
<line x1="72.41" y1="53.80" x2="72.41" y2="51.80"/>
<line x1="72.41" y1="53.80" x2="72.41" y2="55.80"/>
<line x1="83.31" y1="53.80" x2="83.31" y2="51.80"/>
<line x1="83.31" y1="53.80" x2="83.31" y2="55.80"/>
<line x1="94.22" y1="53.80" x2="94.22" y2="51.80"/>
<line x1="94.22" y1="53.80" x2="94.22" y2="55.80"/>
<line x1="105.12" y1="53.80" x2="105.12" y2="51.80"/>
<line x1="105.12" y1="53.80" x2="105.12" y2="55.80"/>
<line x1="116.03" y1="53.80" x2="116.03" y2="51.80"/>
<line x1="116.03" y1="53.80" x2="116.03" y2="55.80"/>
<line x1="126.94" y1="53.80" x2="126.94" y2="51.80"/>
<line x1="126.94" y1="53.80" x2="126.94" y2="55.80"/>
<line x1="137.84" y1="53.80" x2="137.84" y2="51.80"/>
<line x1="137.84" y1="53.80" x2="137.84" y2="55.80"/>
<line x1="148.75" y1="53.80" x2="148.75" y2="51.80"/>
<line x1="148.75" y1="53.80" x2="148.75" y2="55.80"/>
<line x1="159.65" y1="53.80" x2="159.65" y2="51.80"/>
<line x1="159.65" y1="53.80" x2="159.65" y2="55.80"/>
<line x1="170.56" y1="53.80" x2="170.56" y2="51.80"/>
<line x1="170.56" y1="53.80" x2="170.56" y2="55.80"/>
<line x1="181.46" y1="53.80" x2="181.46" y2="51.80"/>
<line x1="181.46" y1="53.80" x2="181.46" y2="55.80"/>
<line x1="192.37" y1="53.80" x2="192.37" y2="51.80"/>
<line x1="192.37" y1="53.80" x2="192.37" y2="55.80"/>
<line x1="203.28" y1="53.80" x2="203.28" y2="51.80"/>
<line x1="203.28" y1="53.80" x2="203.28" y2="55.80"/>
<line x1="214.18" y1="53.80" x2="214.18" y2="51.80"/>
<line x1="214.18" y1="53.80" x2="214.18" y2="55.80"/>
<line x1="225.09" y1="53.80" x2="225.09" y2="51.80"/>
<line x1="225.09" y1="53.80" x2="225.09" y2="55.80"/>
<line x1="235.99" y1="53.80" x2="235.99" y2="51.80"/>
<line x1="235.99" y1="53.80" x2="235.99" y2="55.80"/>
<line x1="72.41" y1="106.50" x2="72.41" y2="104.50"/>
<line x1="72.41" y1="106.50" x2="72.41" y2="108.50"/>
<line x1="83.31" y1="106.50" x2="83.31" y2="104.50"/>
<line x1="83.31" y1="106.50" x2="83.31" y2="108.50"/>
<line x1="94.22" y1="106.50" x2="94.22" y2="104.50"/>
<line x1="94.22" y1="106.50" x2="94.22" y2="108.50"/>
<line x1="105.12" y1="106.50" x2="105.12" y2="104.50"/>
<line x1="105.12" y1="106.50" x2="105.12" y2="108.50"/>
<line x1="116.03" y1="106.50" x2="116.03" y2="104.50"/>
<line x1="116.03" y1="106.50" x2="116.03" y2="108.50"/>
<line x1="126.94" y1="106.50" x2="126.94" y2="104.50"/>
<line x1="126.94" y1="106.50" x2="126.94" y2="108.50"/>
<line x1="137.84" y1="106.50" x2="137.84" y2="104.50"/>
<line x1="137.84" y1="106.50" x2="137.84" y2="108.50"/>
<line x1="148.75" y1="106.50" x2="148.75" y2="104.50"/>
<line x1="148.75" y1="106.50" x2="148.75" y2="108.50"/>
<line x1="159.65" y1="106.50" x2="159.65" y2="104.50"/>
<line x1="159.65" y1="106.50" x2="159.65" y2="108.50"/>
<line x1="170.56" y1="106.50" x2="170.56" y2="104.50"/>
<line x1="170.56" y1="106.50" x2="170.56" y2="108.50"/>
<line x1="181.46" y1="106.50" x2="181.46" y2="104.50"/>
<line x1="181.46" y1="106.50" x2="181.46" y2="108.50"/>
<line x1="192.37" y1="106.50" x2="192.37" y2="104.50"/>
<line x1="192.37" y1="106.50" x2="192.37" y2="108.50"/>
<line x1="203.28" y1="106.50" x2="203.28" y2="104.50"/>
<line x1="203.28" y1="106.50" x2="203.28" y2="108.50"/>
<line x1="214.18" y1="106.50" x2="214.18" y2="104.50"/>
<line x1="214.18" y1="106.50" x2="214.18" y2="108.50"/>
<line x1="225.09" y1="106.50" x2="225.09" y2="104.50"/>
<line x1="225.09" y1="106.50" x2="225.09" y2="108.50"/>
<line x1="235.99" y1="106.50" x2="235.99" y2="104.50"/>
<line x1="235.99" y1="106.50" x2="235.99" y2="108.50"/>
<line x1="72.41" y1="159.40" x2="72.41" y2="157.40"/>
<line x1="72.41" y1="159.40" x2="72.41" y2="161.40"/>
<line x1="83.31" y1="159.40" x2="83.31" y2="157.40"/>
<line x1="83.31" y1="159.40" x2="83.31" y2="161.40"/>
<line x1="94.22" y1="159.40" x2="94.22" y2="157.40"/>
<line x1="94.22" y1="159.40" x2="94.22" y2="161.40"/>
<line x1="105.12" y1="159.40" x2="105.12" y2="157.40"/>
<line x1="105.12" y1="159.40" x2="105.12" y2="161.40"/>
<line x1="116.03" y1="159.40" x2="116.03" y2="157.40"/>
<line x1="116.03" y1="159.40" x2="116.03" y2="161.40"/>
<line x1="126.94" y1="159.40" x2="126.94" y2="157.40"/>
<line x1="126.94" y1="159.40" x2="126.94" y2="161.40"/>
<line x1="137.84" y1="159.40" x2="137.84" y2="157.40"/>
<line x1="137.84" y1="159.40" x2="137.84" y2="161.40"/>
<line x1="148.75" y1="159.40" x2="148.75" y2="157.40"/>
<line x1="148.75" y1="159.40" x2="148.75" y2="161.40"/>
<line x1="159.65" y1="159.40" x2="159.65" y2="157.40"/>
<line x1="159.65" y1="159.40" x2="159.65" y2="161.40"/>
<line x1="170.56" y1="159.40" x2="170.56" y2="157.40"/>
<line x1="170.56" y1="159.40" x2="170.56" y2="161.40"/>
<line x1="181.46" y1="159.40" x2="181.46" y2="157.40"/>
<line x1="181.46" y1="159.40" x2="181.46" y2="161.40"/>
<line x1="192.37" y1="159.40" x2="192.37" y2="157.40"/>
<line x1="192.37" y1="159.40" x2="192.37" y2="161.40"/>
<line x1="203.28" y1="159.40" x2="203.28" y2="157.40"/>
<line x1="203.28" y1="159.40" x2="203.28" y2="161.40"/>
<line x1="214.18" y1="159.40" x2="214.18" y2="157.40"/>
<line x1="214.18" y1="159.40" x2="214.18" y2="161.40"/>
<line x1="225.09" y1="159.40" x2="225.09" y2="157.40"/>
<line x1="225.09" y1="159.40" x2="225.09" y2="161.40"/>
<line x1="235.99" y1="159.40" x2="235.99" y2="157.40"/>
<line x1="235.99" y1="159.40" x2="235.99" y2="161.40"/>
<line x1="72.41" y1="212.40" x2="72.41" y2="210.40"/>
<line x1="72.41" y1="212.40" x2="72.41" y2="214.40"/>
<line x1="83.31" y1="212.40" x2="83.31" y2="210.40"/>
<line x1="83.31" y1="212.40" x2="83.31" y2="214.40"/>
<line x1="94.22" y1="212.40" x2="94.22" y2="210.40"/>
<line x1="94.22" y1="212.40" x2="94.22" y2="214.40"/>
<line x1="105.12" y1="212.40" x2="105.12" y2="210.40"/>
<line x1="105.12" y1="212.40" x2="105.12" y2="214.40"/>
<line x1="116.03" y1="212.40" x2="116.03" y2="210.40"/>
<line x1="116.03" y1="212.40" x2="116.03" y2="214.40"/>
<line x1="126.94" y1="212.40" x2="126.94" y2="210.40"/>
<line x1="126.94" y1="212.40" x2="126.94" y2="214.40"/>
<line x1="137.84" y1="212.40" x2="137.84" y2="210.40"/>
<line x1="137.84" y1="212.40" x2="137.84" y2="214.40"/>
<line x1="148.75" y1="212.40" x2="148.75" y2="210.40"/>
<line x1="148.75" y1="212.40" x2="148.75" y2="214.40"/>
<line x1="159.65" y1="212.40" x2="159.65" y2="210.40"/>
<line x1="159.65" y1="212.40" x2="159.65" y2="214.40"/>
<line x1="170.56" y1="212.40" x2="170.56" y2="210.40"/>
<line x1="170.56" y1="212.40" x2="170.56" y2="214.40"/>
<line x1="181.46" y1="212.40" x2="181.46" y2="210.40"/>
<line x1="181.46" y1="212.40" x2="181.46" y2="214.40"/>
<line x1="192.37" y1="212.40" x2="192.37" y2="210.40"/>
<line x1="192.37" y1="212.40" x2="192.37" y2="214.40"/>
<line x1="203.28" y1="212.40" x2="203.28" y2="210.40"/>
<line x1="203.28" y1="212.40" x2="203.28" y2="214.40"/>
<line x1="214.18" y1="212.40" x2="214.18" y2="210.40"/>
<line x1="214.18" y1="212.40" x2="214.18" y2="214.40"/>
<line x1="225.09" y1="212.40" x2="225.09" y2="210.40"/>
<line x1="225.09" y1="212.40" x2="225.09" y2="214.40"/>
<line x1="235.99" y1="212.40" x2="235.99" y2="210.40"/>
<line x1="235.99" y1="212.40" x2="235.99" y2="214.40"/>
<line x1="72.41" y1="265.30" x2="72.41" y2="263.30"/>
<line x1="72.41" y1="265.30" x2="72.41" y2="267.30"/>
<line x1="83.31" y1="265.30" x2="83.31" y2="263.30"/>
<line x1="83.31" y1="265.30" x2="83.31" y2="267.30"/>
<line x1="94.22" y1="265.30" x2="94.22" y2="263.30"/>
<line x1="94.22" y1="265.30" x2="94.22" y2="267.30"/>
<line x1="105.12" y1="265.30" x2="105.12" y2="263.30"/>
<line x1="105.12" y1="265.30" x2="105.12" y2="267.30"/>
<line x1="116.03" y1="265.30" x2="116.03" y2="263.30"/>
<line x1="116.03" y1="265.30" x2="116.03" y2="267.30"/>
<line x1="126.94" y1="265.30" x2="126.94" y2="263.30"/>
<line x1="126.94" y1="265.30" x2="126.94" y2="267.30"/>
<line x1="137.84" y1="265.30" x2="137.84" y2="263.30"/>
<line x1="137.84" y1="265.30" x2="137.84" y2="267.30"/>
<line x1="148.75" y1="265.30" x2="148.75" y2="263.30"/>
<line x1="148.75" y1="265.30" x2="148.75" y2="267.30"/>
<line x1="159.65" y1="265.30" x2="159.65" y2="263.30"/>
<line x1="159.65" y1="265.30" x2="159.65" y2="267.30"/>
<line x1="170.56" y1="265.30" x2="170.56" y2="263.30"/>
<line x1="170.56" y1="265.30" x2="170.56" y2="267.30"/>
<line x1="181.46" y1="265.30" x2="181.46" y2="263.30"/>
<line x1="181.46" y1="265.30" x2="181.46" y2="267.30"/>
<line x1="192.37" y1="265.30" x2="192.37" y2="263.30"/>
<line x1="192.37" y1="265.30" x2="192.37" y2="267.30"/>
<line x1="203.28" y1="265.30" x2="203.28" y2="263.30"/>
<line x1="203.28" y1="265.30" x2="203.28" y2="267.30"/>
<line x1="214.18" y1="265.30" x2="214.18" y2="263.30"/>
<line x1="214.18" y1="265.30" x2="214.18" y2="267.30"/>
<line x1="225.09" y1="265.30" x2="225.09" y2="263.30"/>
<line x1="225.09" y1="265.30" x2="225.09" y2="267.30"/>
<line x1="235.99" y1="265.30" x2="235.99" y2="263.30"/>
<line x1="235.99" y1="265.30" x2="235.99" y2="267.30"/>
<line x1="72.41" y1="318.20" x2="72.41" y2="316.20"/>
<line x1="72.41" y1="318.20" x2="72.41" y2="320.20"/>
<line x1="83.31" y1="318.20" x2="83.31" y2="316.20"/>
<line x1="83.31" y1="318.20" x2="83.31" y2="320.20"/>
<line x1="94.22" y1="318.20" x2="94.22" y2="316.20"/>
<line x1="94.22" y1="318.20" x2="94.22" y2="320.20"/>
<line x1="105.12" y1="318.20" x2="105.12" y2="316.20"/>
<line x1="105.12" y1="318.20" x2="105.12" y2="320.20"/>
<line x1="116.03" y1="318.20" x2="116.03" y2="316.20"/>
<line x1="116.03" y1="318.20" x2="116.03" y2="320.20"/>
<line x1="126.94" y1="318.20" x2="126.94" y2="316.20"/>
<line x1="126.94" y1="318.20" x2="126.94" y2="320.20"/>
<line x1="137.84" y1="318.20" x2="137.84" y2="316.20"/>
<line x1="137.84" y1="318.20" x2="137.84" y2="320.20"/>
<line x1="148.75" y1="318.20" x2="148.75" y2="316.20"/>
<line x1="148.75" y1="318.20" x2="148.75" y2="320.20"/>
<line x1="159.65" y1="318.20" x2="159.65" y2="316.20"/>
<line x1="159.65" y1="318.20" x2="159.65" y2="320.20"/>
<line x1="170.56" y1="318.20" x2="170.56" y2="316.20"/>
<line x1="170.56" y1="318.20" x2="170.56" y2="320.20"/>
<line x1="181.46" y1="318.20" x2="181.46" y2="316.20"/>
<line x1="181.46" y1="318.20" x2="181.46" y2="320.20"/>
<line x1="192.37" y1="318.20" x2="192.37" y2="316.20"/>
<line x1="192.37" y1="318.20" x2="192.37" y2="320.20"/>
<line x1="203.28" y1="318.20" x2="203.28" y2="316.20"/>
<line x1="203.28" y1="318.20" x2="203.28" y2="320.20"/>
<line x1="214.18" y1="318.20" x2="214.18" y2="316.20"/>
<line x1="214.18" y1="318.20" x2="214.18" y2="320.20"/>
<line x1="225.09" y1="318.20" x2="225.09" y2="316.20"/>
<line x1="225.09" y1="318.20" x2="225.09" y2="320.20"/>
<line x1="235.99" y1="318.20" x2="235.99" y2="316.20"/>
<line x1="235.99" y1="318.20" x2="235.99" y2="320.20"/>
<line x1="72.41" y1="371.40" x2="72.41" y2="369.40"/>
<line x1="72.41" y1="371.40" x2="72.41" y2="373.40"/>
<line x1="83.31" y1="371.40" x2="83.31" y2="369.40"/>
<line x1="83.31" y1="371.40" x2="83.31" y2="373.40"/>
<line x1="94.22" y1="371.40" x2="94.22" y2="369.40"/>
<line x1="94.22" y1="371.40" x2="94.22" y2="373.40"/>
<line x1="105.12" y1="371.40" x2="105.12" y2="369.40"/>
<line x1="105.12" y1="371.40" x2="105.12" y2="373.40"/>
<line x1="116.03" y1="371.40" x2="116.03" y2="369.40"/>
<line x1="116.03" y1="371.40" x2="116.03" y2="373.40"/>
<line x1="126.94" y1="371.40" x2="126.94" y2="369.40"/>
<line x1="126.94" y1="371.40" x2="126.94" y2="373.40"/>
<line x1="137.84" y1="371.40" x2="137.84" y2="369.40"/>
<line x1="137.84" y1="371.40" x2="137.84" y2="373.40"/>
<line x1="148.75" y1="371.40" x2="148.75" y2="369.40"/>
<line x1="148.75" y1="371.40" x2="148.75" y2="373.40"/>
<line x1="159.65" y1="371.40" x2="159.65" y2="369.40"/>
<line x1="159.65" y1="371.40" x2="159.65" y2="373.40"/>
<line x1="170.56" y1="371.40" x2="170.56" y2="369.40"/>
<line x1="170.56" y1="371.40" x2="170.56" y2="373.40"/>
<line x1="181.46" y1="371.40" x2="181.46" y2="369.40"/>
<line x1="181.46" y1="371.40" x2="181.46" y2="373.40"/>
<line x1="192.37" y1="371.40" x2="192.37" y2="369.40"/>
<line x1="192.37" y1="371.40" x2="192.37" y2="373.40"/>
<line x1="203.28" y1="371.40" x2="203.28" y2="369.40"/>
<line x1="203.28" y1="371.40" x2="203.28" y2="373.40"/>
<line x1="214.18" y1="371.40" x2="214.18" y2="369.40"/>
<line x1="214.18" y1="371.40" x2="214.18" y2="373.40"/>
<line x1="225.09" y1="371.40" x2="225.09" y2="369.40"/>
<line x1="225.09" y1="371.40" x2="225.09" y2="373.40"/>
<line x1="235.99" y1="371.40" x2="235.99" y2="369.40"/>
<line x1="235.99" y1="371.40" x2="235.99" y2="373.40"/>
<line x1="72.41" y1="424.10" x2="72.41" y2="422.10"/>
<line x1="83.31" y1="424.10" x2="83.31" y2="422.10"/>
<line x1="94.22" y1="424.10" x2="94.22" y2="422.10"/>
<line x1="105.12" y1="424.10" x2="105.12" y2="422.10"/>
<line x1="116.03" y1="424.10" x2="116.03" y2="422.10"/>
<line x1="126.94" y1="424.10" x2="126.94" y2="422.10"/>
<line x1="137.84" y1="424.10" x2="137.84" y2="422.10"/>
<line x1="148.75" y1="424.10" x2="148.75" y2="422.10"/>
<line x1="159.65" y1="424.10" x2="159.65" y2="422.10"/>
<line x1="170.56" y1="424.10" x2="170.56" y2="422.10"/>
<line x1="181.46" y1="424.10" x2="181.46" y2="422.10"/>
<line x1="192.37" y1="424.10" x2="192.37" y2="422.10"/>
<line x1="203.28" y1="424.10" x2="203.28" y2="422.10"/>
<line x1="214.18" y1="424.10" x2="214.18" y2="422.10"/>
<line x1="225.09" y1="424.10" x2="225.09" y2="422.10"/>
<line x1="235.99" y1="424.10" x2="235.99" y2="422.10"/>
<line x1="61.50" y1="8.90" x2="63.50" y2="8.90"/>
<line x1="247.10" y1="8.90" x2="245.10" y2="8.90"/>
<line x1="61.50" y1="27.55" x2="63.50" y2="27.55"/>
<line x1="247.10" y1="27.55" x2="245.10" y2="27.55"/>
<line x1="61.50" y1="46.20" x2="63.50" y2="46.20"/>
<line x1="247.10" y1="46.20" x2="245.10" y2="46.20"/>
<line x1="61.50" y1="54.10" x2="63.50" y2="54.10"/>
<line x1="247.10" y1="54.10" x2="245.10" y2="54.10"/>
<line x1="61.50" y1="69.10" x2="63.50" y2="69.10"/>
<line x1="247.10" y1="69.10" x2="245.10" y2="69.10"/>
<line x1="61.50" y1="84.10" x2="63.50" y2="84.10"/>
<line x1="247.10" y1="84.10" x2="245.10" y2="84.10"/>
<line x1="61.50" y1="99.20" x2="63.50" y2="99.20"/>
<line x1="247.10" y1="99.20" x2="245.10" y2="99.20"/>
<line x1="61.50" y1="114.10" x2="63.50" y2="114.10"/>
<line x1="247.10" y1="114.10" x2="245.10" y2="114.10"/>
<line x1="61.50" y1="124.10" x2="63.50" y2="124.10"/>
<line x1="247.10" y1="124.10" x2="245.10" y2="124.10"/>
<line x1="61.50" y1="134.20" x2="63.50" y2="134.20"/>
<line x1="247.10" y1="134.20" x2="245.10" y2="134.20"/>
<line x1="61.50" y1="144.20" x2="63.50" y2="144.20"/>
<line x1="247.10" y1="144.20" x2="245.10" y2="144.20"/>
<line x1="61.50" y1="154.20" x2="63.50" y2="154.20"/>
<line x1="247.10" y1="154.20" x2="245.10" y2="154.20"/>
<line x1="61.50" y1="163.90" x2="63.50" y2="163.90"/>
<line x1="247.10" y1="163.90" x2="245.10" y2="163.90"/>
<line x1="61.50" y1="176.70" x2="63.50" y2="176.70"/>
<line x1="247.10" y1="176.70" x2="245.10" y2="176.70"/>
<line x1="61.50" y1="189.60" x2="63.50" y2="189.60"/>
<line x1="247.10" y1="189.60" x2="245.10" y2="189.60"/>
<line x1="61.50" y1="202.40" x2="63.50" y2="202.40"/>
<line x1="247.10" y1="202.40" x2="245.10" y2="202.40"/>
<line x1="61.50" y1="213.30" x2="63.50" y2="213.30"/>
<line x1="247.10" y1="213.30" x2="245.10" y2="213.30"/>
<line x1="61.50" y1="239.30" x2="63.50" y2="239.30"/>
<line x1="247.10" y1="239.30" x2="245.10" y2="239.30"/>
<line x1="61.50" y1="266.00" x2="63.50" y2="266.00"/>
<line x1="247.10" y1="266.00" x2="245.10" y2="266.00"/>
<line x1="61.50" y1="292.10" x2="63.50" y2="292.10"/>
<line x1="247.10" y1="292.10" x2="245.10" y2="292.10"/>
<line x1="61.50" y1="318.20" x2="63.50" y2="318.20"/>
<line x1="247.10" y1="318.20" x2="245.10" y2="318.20"/>
<line x1="61.50" y1="330.50" x2="63.50" y2="330.50"/>
<line x1="247.10" y1="330.50" x2="245.10" y2="330.50"/>
<line x1="61.50" y1="350.60" x2="63.50" y2="350.60"/>
<line x1="247.10" y1="350.60" x2="245.10" y2="350.60"/>
<line x1="61.50" y1="370.70" x2="63.50" y2="370.70"/>
<line x1="247.10" y1="370.70" x2="245.10" y2="370.70"/>
<line x1="61.50" y1="384.50" x2="63.50" y2="384.50"/>
<line x1="247.10" y1="384.50" x2="245.10" y2="384.50"/>
<line x1="61.50" y1="410.80" x2="63.50" y2="410.80"/>
<line x1="247.10" y1="410.80" x2="245.10" y2="410.80"/>
</g></g>
<text x="56.9" y="13.30" font-size="10" text-anchor="end">50</text>
<text x="56.9" y="31.95" font-size="10" text-anchor="end">0</text>
<text x="56.9" y="50.60" font-size="10" text-anchor="end">-50</text>
<text x="56.9" y="58.50" font-size="10" text-anchor="end">40</text>
<text x="56.9" y="73.50" font-size="10" text-anchor="end">30</text>
<text x="56.9" y="88.50" font-size="10" text-anchor="end">20</text>
<text x="56.9" y="103.60" font-size="10" text-anchor="end">10</text>
<text x="56.9" y="118.50" font-size="10" text-anchor="end">120</text>
<text x="56.9" y="128.50" font-size="10" text-anchor="end">100</text>
<text x="56.9" y="138.60" font-size="10" text-anchor="end">80</text>
<text x="56.9" y="148.60" font-size="10" text-anchor="end">60</text>
<text x="56.9" y="158.60" font-size="10" text-anchor="end">40</text>
<text x="56.9" y="168.30" font-size="10" text-anchor="end">200</text>
<text x="56.9" y="181.10" font-size="10" text-anchor="end">0</text>
<text x="56.9" y="194.00" font-size="10" text-anchor="end">-200</text>
<text x="56.9" y="206.80" font-size="10" text-anchor="end">-400</text>
<text x="56.9" y="217.70" font-size="10" text-anchor="end">2000</text>
<text x="56.9" y="243.70" font-size="10" text-anchor="end">1000</text>
<text x="56.9" y="270.40" font-size="10" text-anchor="end">20</text>
<text x="56.9" y="296.50" font-size="10" text-anchor="end">10</text>
<text x="56.9" y="322.60" font-size="10" text-anchor="end">0</text>
<text x="56.9" y="334.90" font-size="10" text-anchor="end">1000</text>
<text x="56.9" y="355.00" font-size="10" text-anchor="end">500</text>
<text x="56.9" y="375.10" font-size="10" text-anchor="end">0</text>
<text x="56.9" y="388.90" font-size="10" text-anchor="end">0.3</text>
<text x="56.9" y="415.20" font-size="10" text-anchor="end">0.2</text>
<text x="94.22" y="439.8" font-size="10" text-anchor="middle">08:03:46</text>
<text x="148.75" y="439.8" font-size="10" text-anchor="middle">08:03:47</text>
<text x="203.28" y="439.8" font-size="10" text-anchor="middle">08:03:48</text>
<text x="154.2" y="453.4" font-size="11" text-anchor="middle">2017-01-27 UTC</text>
<text x="62.4" y="15.80" font-size="12.8" font-weight="bold" fill="#000" style="fill:#000">A)</text>
<text x="62.4" y="69.10" font-size="12.8" font-weight="bold" fill="#000" style="fill:#000">B)</text>
<text x="62.4" y="121.80" font-size="12.8" font-weight="bold" fill="#000" style="fill:#000">C)</text>
<text x="62.4" y="174.70" font-size="12.8" font-weight="bold" fill="#000" style="fill:#000">D)</text>
<text x="62.4" y="227.70" font-size="12.8" font-weight="bold" fill="#000" style="fill:#000">E)</text>
<text x="62.4" y="280.60" font-size="12.8" font-weight="bold" fill="#000" style="fill:#000">F)</text>
<text x="62.4" y="333.50" font-size="12.8" font-weight="bold" fill="#000" style="fill:#000">G)</text>
<text x="62.4" y="386.70" font-size="12.8" font-weight="bold" fill="#000" style="fill:#000">H)</text>
<text transform="translate(9.90,28.15) rotate(-90)" font-size="11.4" text-anchor="middle">B</text>
<text transform="translate(24.60,28.10) rotate(-90)" font-size="11.4" text-anchor="middle">[nT]</text>
<text transform="translate(10.20,83.85) rotate(-90)" font-size="11.4" text-anchor="middle">N</text>
<text transform="translate(15.70,76.40) rotate(-90)" font-size="8.5" text-anchor="middle">e</text>
<text transform="translate(33.10,86.95) rotate(-90)" font-size="11.4" text-anchor="middle">[cm</text>
<text transform="translate(27.30,73.10) rotate(-90)" font-size="8" text-anchor="middle">-3</text>
<text transform="translate(33.10,67.80) rotate(-90)" font-size="11.4" text-anchor="middle">]</text>
<text transform="translate(9.30,134.40) rotate(-90)" font-size="11.4" text-anchor="middle">T</text>
<text transform="translate(16.10,128.90) rotate(-90)" font-size="8.5" text-anchor="middle">e</text>
<text transform="translate(30.00,133.90) rotate(-90)" font-size="11.4" text-anchor="middle">[eV]</text>
<text transform="translate(9.90,188.95) rotate(-90)" font-size="11.4" text-anchor="middle">V</text>
<text transform="translate(15.90,183.05) rotate(-90)" font-size="8.5" text-anchor="middle">e</text>
<text transform="translate(30.00,186.65) rotate(-90)" font-size="11.4" text-anchor="middle">[km/s]</text>
<text transform="translate(10.40,239.90) rotate(-90)" font-size="11.4" text-anchor="middle">|J|</text>
<text transform="translate(29.20,244.05) rotate(-90)" font-size="11.4" text-anchor="middle">[nA/m</text>
<text transform="translate(21.90,227.20) rotate(-90)" font-size="8" text-anchor="middle">2</text>
<text transform="translate(29.20,221.85) rotate(-90)" font-size="11.4" text-anchor="middle">]</text>
<text transform="translate(9.20,292.35) rotate(-90)" font-size="11.4" text-anchor="middle">PVI</text>
<text transform="translate(10.30,345.70) rotate(-90)" font-size="11.4" text-anchor="middle">| J · E' |</text>
<text transform="translate(27.80,358.15) rotate(-90)" font-size="11.4" text-anchor="middle">[pJm</text>
<text transform="translate(22.00,341.25) rotate(-90)" font-size="8" text-anchor="middle">-3</text>
<text transform="translate(27.80,334.65) rotate(-90)" font-size="11.4" text-anchor="middle">s</text>
<text transform="translate(22.00,327.85) rotate(-90)" font-size="8" text-anchor="middle">-1</text>
<text transform="translate(27.80,322.15) rotate(-90)" font-size="11.4" text-anchor="middle">]</text>
<text transform="translate(10.00,398.40) rotate(-90)" font-size="11.4" text-anchor="middle">&#1013; 2</text>
<rect x="256.40" y="5.80" width="69.50" height="40.10" fill="#fff" stroke="#a0a0a0" stroke-width="0.8"/>
<line x1="263.00" y1="14.00" x2="292.60" y2="14.00" stroke="#000" stroke-width="1.2"/>
<text x="295.00" y="17.30" font-size="9.2" style="fill:#000">X GSE</text>
<line x1="263.00" y1="27.00" x2="292.60" y2="27.00" stroke="#0000ff" stroke-width="1.2"/>
<text x="295.00" y="30.40" font-size="9.2" style="fill:#000">Y GSE</text>
<line x1="263.00" y1="40.00" x2="292.60" y2="40.00" stroke="#ff0000" stroke-width="1.2"/>
<text x="295.00" y="43.50" font-size="9.2" style="fill:#000">Z GSE</text>
<rect x="256.40" y="112.40" width="61.80" height="41.90" fill="#fff" stroke="#a0a0a0" stroke-width="0.8"/>
<line x1="263.00" y1="121.00" x2="292.60" y2="121.00" stroke="#000" stroke-width="1.2"/>
<text x="295.00" y="124.00" font-size="9.2" style="fill:#000">Total</text>
<line x1="263.00" y1="134.00" x2="292.60" y2="134.00" stroke="#ff0000" stroke-width="1.2"/>
<text x="295.00" y="137.10" font-size="9.2" style="fill:#000">Para</text>
<line x1="263.00" y1="147.00" x2="292.60" y2="147.00" stroke="#0000ff" stroke-width="1.2"/>
<text x="295.00" y="150.20" font-size="9.2" style="fill:#000">Perp</text>
<rect x="256.40" y="165.50" width="69.40" height="41.50" fill="#fff" stroke="#a0a0a0" stroke-width="0.8"/>
<line x1="263.00" y1="174.00" x2="292.60" y2="174.00" stroke="#000" stroke-width="1.2"/>
<text x="295.00" y="176.80" font-size="9.2" style="fill:#000">X GSE</text>
<line x1="263.00" y1="187.00" x2="292.60" y2="187.00" stroke="#0000ff" stroke-width="1.2"/>
<text x="295.00" y="190.00" font-size="9.2" style="fill:#000">Y GSE</text>
<line x1="263.00" y1="200.00" x2="292.60" y2="200.00" stroke="#ff0000" stroke-width="1.2"/>
<text x="295.00" y="203.10" font-size="9.2" style="fill:#000">Z GSE</text>
<rect x="257.50" y="264.90" width="98.10" height="79.30" fill="#fff" stroke="#a0a0a0" stroke-width="0.8"/>
<line x1="263.00" y1="274.00" x2="292.60" y2="274.00" stroke="#000" stroke-width="1.2"/>
<text x="295.00" y="277.40" font-size="9.2" style="fill:#000">MMS1-MMS2</text>
<line x1="263.00" y1="286.00" x2="292.60" y2="286.00" stroke="#0000ff" stroke-width="1.2"/>
<text x="295.00" y="289.80" font-size="9.2" style="fill:#000">MMS1-MMS3</text>
<line x1="263.00" y1="299.00" x2="292.60" y2="299.00" stroke="#ff0000" stroke-width="1.2"/>
<text x="295.00" y="302.20" font-size="9.2" style="fill:#000">MMS1-MMS4</text>
<line x1="263.00" y1="312.00" x2="292.60" y2="312.00" stroke="#008000" stroke-width="1.2"/>
<text x="295.00" y="314.90" font-size="9.2" style="fill:#000">MMS2-MMS3</text>
<line x1="263.00" y1="324.00" x2="292.60" y2="324.00" stroke="#00ffff" stroke-width="1.2"/>
<text x="295.00" y="327.30" font-size="9.2" style="fill:#000">MMS2-MMS4</text>
<line x1="263.00" y1="337.00" x2="292.60" y2="337.00" stroke="#ff00ff" stroke-width="1.2"/>
<text x="295.00" y="340.30" font-size="9.2" style="fill:#000">MMS3-MMS4</text>
<rect x="257.50" y="383.20" width="96.90" height="28.00" fill="#fff" stroke="#a0a0a0" stroke-width="0.8"/>
<line x1="263.00" y1="391.00" x2="292.60" y2="391.00" stroke="#000" stroke-width="1.2"/>
<text x="295.00" y="394.30" font-size="9.2" style="fill:#000">Maxwellian</text>
<line x1="263.00" y1="403.00" x2="292.60" y2="403.00" stroke="#ff0000" stroke-width="1.2"/>
<text x="295.00" y="406.70" font-size="9.2" style="fill:#000">Bi-Maxwellian</text>
</svg></body></html>
